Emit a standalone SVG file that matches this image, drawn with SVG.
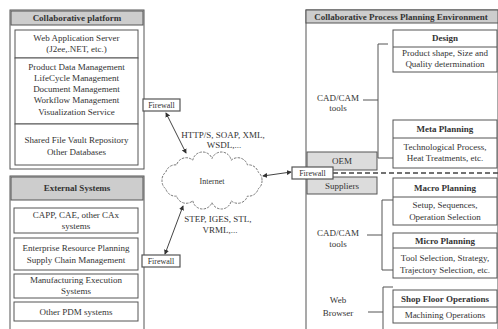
<svg xmlns="http://www.w3.org/2000/svg" width="498" height="329" viewBox="0 0 498 329">
<style>
.box{fill:#fff;stroke:#555;stroke-width:1}
.hdr{fill:#cdcdcd;stroke:#555;stroke-width:1}
.gray{fill:#dcdcdc;stroke:#555;stroke-width:1}
.fw{fill:#fff;stroke:#555;stroke-width:1.2}
.t{font-family:"Liberation Serif","Times New Roman",serif;font-size:9px;fill:#333;text-anchor:middle}
.b{font-weight:bold}
.s{font-size:8px}
.ln{fill:none;stroke:#555;stroke-width:1}
.conn{fill:none;stroke:#444;stroke-width:1}
</style>
<defs>
<marker id="ah" viewBox="0 0 6 6" refX="5" refY="3" markerWidth="5" markerHeight="5" orient="auto-start-reverse">
<path d="M0,0 L6,3 L0,6 z" fill="#333"/>
</marker>
</defs>
<rect width="498" height="329" fill="#fff"/>

<g id="collab-platform">
<rect class="box" x="10" y="10" width="134" height="159" stroke-width="1.5"/>
<rect class="hdr" x="11" y="11" width="132" height="14"/>
<text class="t b" x="77" y="21">Collaborative platform</text>
</g>
<g id="web-app-server">
<rect class="box" x="15" y="30" width="123" height="28"/>
<text class="t" x="76.5" y="41">Web Application Server</text>
<text class="t" x="76.5" y="52">(J2ee,.NET, etc.)</text>
</g>
<g id="pdm">
<rect class="box" x="15" y="58" width="123" height="66"/>
<text class="t" x="76.5" y="70">Product Data Management</text>
<text class="t" x="76.5" y="81">LifeCycle Management</text>
<text class="t" x="76.5" y="92">Document Management</text>
<text class="t" x="76.5" y="103">Workflow Management</text>
<text class="t" x="76.5" y="115">Visualization Service</text>
</g>
<g id="vault">
<rect class="box" x="15" y="124" width="123" height="41"/>
<text class="t" x="76.5" y="143">Shared File Vault Repository</text>
<text class="t" x="76.5" y="155">Other Databases</text>
</g>

<g id="external-systems">
<rect class="box" x="10" y="176" width="134" height="160" stroke-width="1.5"/>
<rect class="hdr" x="11" y="177" width="132" height="23" fill="#b9b9b9"/>
<text class="t b" x="77" y="191">External Systems</text>
</g>
<g id="capp">
<rect class="box" x="14" y="208" width="124" height="25"/>
<text class="t" x="76" y="218">CAPP, CAE, other CAx</text>
<text class="t" x="76" y="229">systems</text>
</g>
<g id="erp">
<rect class="box" x="14" y="238" width="124" height="32"/>
<text class="t" x="76" y="251">Enterprise Resource Planning</text>
<text class="t" x="76" y="263">Supply Chain Management</text>
</g>
<g id="mes">
<rect class="box" x="14" y="274" width="124" height="24"/>
<text class="t" x="76" y="283">Manufacturing Execution</text>
<text class="t" x="76" y="294">Systems</text>
</g>
<g id="other-pdm">
<rect class="box" x="14" y="302" width="124" height="19"/>
<text class="t" x="76" y="315">Other PDM systems</text>
</g>

<g id="internet">
<path d="M262,180.5 A10,10 0 0 1 258.2,188.9 A10,10 0 0 1 247.4,196.1 A10,10 0 0 1 231.2,200.8 A10,10 0 0 1 212,202.5 A10,10 0 0 1 192.8,200.8 A10,10 0 0 1 176.6,196.1 A10,10 0 0 1 165.8,188.9 A10,10 0 0 1 162,180.5 A10,10 0 0 1 165.8,172.1 A10,10 0 0 1 176.6,164.9 A10,10 0 0 1 192.8,160.2 A10,10 0 0 1 212,158.5 A10,10 0 0 1 231.2,160.2 A10,10 0 0 1 247.4,164.9 A10,10 0 0 1 258.2,172.1 A10,10 0 0 1 262,180.5 Z" fill="#fff" stroke="#777" stroke-width="1" stroke-dasharray="2.5 1.2"/>
<text class="t s" x="212" y="184">Internet</text>
</g>

<g id="cpp-environment">
<rect class="box" x="306" y="10" width="192" height="330" stroke-width="1.5"/>
<rect class="hdr" x="306" y="10" width="192" height="13" fill="#d9d9d9"/>
<text class="t b" x="401" y="20">Collaborative Process Planning Environment</text>
</g>
<g id="design">
<rect class="box" x="393" y="30" width="104" height="42"/>
<line class="ln" x1="393" y1="47" x2="497" y2="47"/>
<text class="t b" x="445" y="41">Design</text>
<text class="t" x="445" y="56">Product shape, Size and</text>
<text class="t" x="445" y="67">Quality determination</text>
</g>
<g id="meta-planning">
<rect class="box" x="393" y="120" width="104" height="48"/>
<line class="ln" x1="393" y1="138" x2="497" y2="138"/>
<text class="t b" x="445" y="132">Meta Planning</text>
<text class="t" x="445" y="150">Technological Process,</text>
<text class="t" x="445" y="161">Heat Treatments, etc.</text>
</g>
<g id="macro-planning">
<rect class="box" x="393" y="178" width="104" height="47"/>
<line class="ln" x1="393" y1="197" x2="497" y2="197"/>
<text class="t b" x="445" y="191">Macro Planning</text>
<text class="t" x="445" y="208">Setup, Sequences,</text>
<text class="t" x="445" y="220">Operation Selection</text>
</g>
<g id="micro-planning">
<rect class="box" x="393" y="233" width="104" height="45"/>
<line class="ln" x1="393" y1="248" x2="497" y2="248"/>
<text class="t b" x="445" y="244">Micro Planning</text>
<text class="t" x="445" y="261">Tool Selection, Strategy,</text>
<text class="t" x="445" y="273">Trajectory Selection, etc.</text>
</g>
<g id="shop-floor">
<rect class="box" x="393" y="290" width="104" height="33"/>
<line class="ln" x1="393" y1="307" x2="497" y2="307"/>
<text class="t b" x="445" y="302">Shop Floor Operations</text>
<text class="t" x="445" y="318">Machining Operations</text>
</g>
<g id="oem">
<rect class="gray" x="307" y="152" width="70" height="18"/>
<text class="t" x="342" y="164">OEM</text>
</g>
<g id="suppliers">
<rect class="gray" x="307" y="177" width="70" height="17"/>
<text class="t" x="342" y="189">Suppliers</text>
</g>
<g id="cadcam-1">
<text class="t" x="338" y="101">CAD/CAM</text>
<text class="t" x="338" y="111">tools</text>
</g>
<g id="cadcam-2">
<text class="t" x="338" y="236">CAD/CAM</text>
<text class="t" x="338" y="247">tools</text>
</g>
<g id="web-browser">
<text class="t" x="338" y="303">Web</text>
<text class="t" x="338" y="316">Browser</text>
</g>

<g id="firewall-top">
<rect class="fw" x="143" y="99" width="37" height="12"/>
<text class="t s" x="161.5" y="108">Firewall</text>
</g>
<g id="firewall-bottom">
<rect class="fw" x="142" y="255" width="38" height="12"/>
<text class="t s" x="161" y="264">Firewall</text>
</g>

<g id="connectors">
<path class="ln" d="M388,44 H378 V158 H393 M363,100 H378"/>
<path class="ln" d="M393,200 H382 V270 H393 M367,235 H382"/>
<path class="ln" d="M393,287 H383 V330 M368,312 H383"/>
<line x1="333" y1="173" x2="498" y2="173" stroke="#444" stroke-width="1.5" stroke-dasharray="5 3"/>
<line class="conn" x1="166" y1="113" x2="186" y2="153" marker-start="url(#ah)" marker-end="url(#ah)"/>
<line class="conn" x1="263" y1="176" x2="291" y2="172" marker-start="url(#ah)" marker-end="url(#ah)"/>
<line class="conn" x1="183" y1="206" x2="165" y2="254" marker-start="url(#ah)" marker-end="url(#ah)"/>
<text class="t" x="223" y="138">HTTP/S, SOAP, XML,</text>
<text class="t" x="224" y="148">WSDL,...</text>
<text class="t" x="218" y="222">STEP, IGES, STL,</text>
<text class="t" x="220" y="233">VRML,...</text>
</g>

<g id="firewall-right">
<rect class="fw" x="292" y="167" width="41" height="12"/>
<text class="t s" x="312.5" y="176">Firewall</text>
</g>
</svg>
